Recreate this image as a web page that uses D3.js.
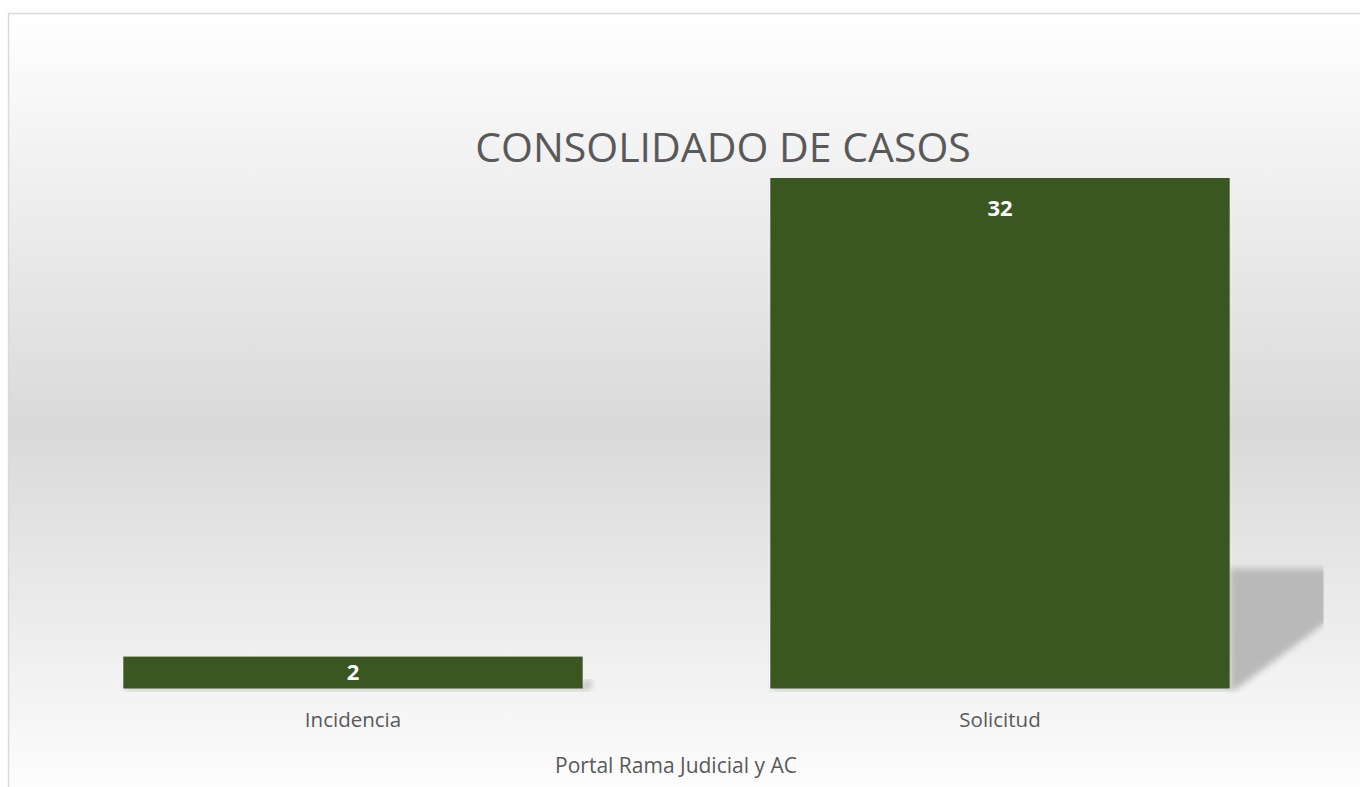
<!DOCTYPE html>
<html lang="en">
<head>
  <meta charset="UTF-8">
  <title>Consolidado de casos</title>
  <script src="https://d3js.org/d3.v7.min.js"></script>
  <style>
    body {
      margin: 0;
      overflow: hidden;
      background-color: #fff;
    }
    svg text {
      font-family: "Open Sans", "Noto Sans", sans-serif;
    }
  </style>
</head>
<body>
  <svg id="chart"></svg>

  <script>
    // data
    const categories = ["Incidencia", "Solicitud"];
    const values = [2, 32];
    const title = "CONSOLIDADO DE CASOS";
    const axisTitle = "Portal Rama Judicial y AC";

    const width = 1360;
    const height = 787;

    const svg = d3.select("#chart")
      .attr("width", width)
      .attr("height", height);

    const defs = svg.append("defs");

    // background gradient (white -> gray -> white)
    const grad = defs.append("linearGradient")
      .attr("id", "bg")
      .attr("x1", 0).attr("y1", 0).attr("x2", 0).attr("y2", 1);
    grad.append("stop").attr("offset", "0%").attr("stop-color", "#ffffff");
    grad.append("stop").attr("offset", "52%").attr("stop-color", "#d9d9d9");
    grad.append("stop").attr("offset", "100%").attr("stop-color", "#ffffff");

    const blur = defs.append("filter")
      .attr("id", "soft")
      .attr("x", "-20%").attr("y", "-20%").attr("width", "140%").attr("height", "140%");
    blur.append("feGaussianBlur").attr("stdDeviation", 3);

    // chart frame
    svg.append("rect")
      .attr("x", 8.5)
      .attr("y", 13.5)
      .attr("width", width + 10)
      .attr("height", height + 10)
      .attr("fill", "url(#bg)")
      .attr("stroke", "#d9d9d9")
      .attr("stroke-width", 1.5);

    const plot = { left: 29.5, right: 1323.5, top: 160, bottom: 688.5 };

    const x = d3.scaleBand()
      .domain(categories)
      .range([plot.left, plot.right])
      .paddingInner(0.29)
      .paddingOuter(0.145);

    const y = d3.scaleLinear()
      .domain([0, 32])
      .range([plot.bottom, 178]);

    defs.append("clipPath").attr("id", "plotclip")
      .append("rect")
      .attr("x", plot.left).attr("y", 0)
      .attr("width", plot.right - plot.left).attr("height", plot.bottom + 6);

    // perspective shadows cast to the right of each bar
    svg.append("g")
      .attr("clip-path", "url(#plotclip)")
      .selectAll("path")
      .data(values)
      .join("path")
      .attr("d", (d, i) => {
        const r = x(categories[i]) + x.bandwidth();
        const h = y(0) - y(d);
        const b = y(0);
        const top = b - h * 0.235;
        return `M${r},${top} L${r + h * 0.33},${top} L${r + 6},${b + 1} L${r},${b + 1} Z`;
      })
      .attr("fill", "#b9b9b9")
      .attr("filter", "url(#soft)");

    // soft drop under bars
    svg.append("g")
      .selectAll("rect")
      .data(values)
      .join("rect")
      .attr("x", (d, i) => x(categories[i]) + 2)
      .attr("y", y(0) - 4)
      .attr("width", x.bandwidth())
      .attr("height", 6)
      .attr("fill", "#c8c8c8")
      .attr("filter", "url(#soft)");

    // bars
    svg.append("g")
      .selectAll("rect")
      .data(values)
      .join("rect")
      .attr("x", (d, i) => x(categories[i]))
      .attr("y", d => y(d))
      .attr("width", x.bandwidth())
      .attr("height", d => y(0) - y(d))
      .attr("fill", "#3a5722");

    // data labels (inside end, centred when the bar is short)
    svg.append("g")
      .selectAll("text")
      .data(values)
      .join("text")
      .attr("x", (d, i) => x(categories[i]) + x.bandwidth() / 2)
      .attr("y", d => y(d) + Math.min(38, (y(0) - y(d)) / 2 + 7.5))
      .attr("text-anchor", "middle")
      .attr("fill", "#ffffff")
      .attr("font-weight", "bold")
      .attr("font-size", 22)
      .text(d => d);

    // category axis
    const xAxis = svg.append("g")
      .attr("transform", `translate(0,${plot.bottom})`)
      .call(d3.axisBottom(x).tickSize(0).tickPadding(0));
    xAxis.select(".domain").remove();
    xAxis.selectAll("text")
      .attr("dy", null)
      .attr("y", 38.5)
      .attr("fill", "#595959")
      .attr("font-size", 20.5)
      .style("font-family", "'Open Sans', 'Noto Sans', sans-serif");

    // axis title
    svg.append("text")
      .attr("x", 676)
      .attr("y", 773)
      .attr("text-anchor", "middle")
      .attr("fill", "#595959")
      .attr("font-size", 21)
      .text(axisTitle);

    // chart title
    svg.append("text")
      .attr("x", 723)
      .attr("y", 162)
      .attr("text-anchor", "middle")
      .attr("fill", "#595959")
      .attr("font-size", 41)
      .text(title);
  </script>
</body>
</html>
